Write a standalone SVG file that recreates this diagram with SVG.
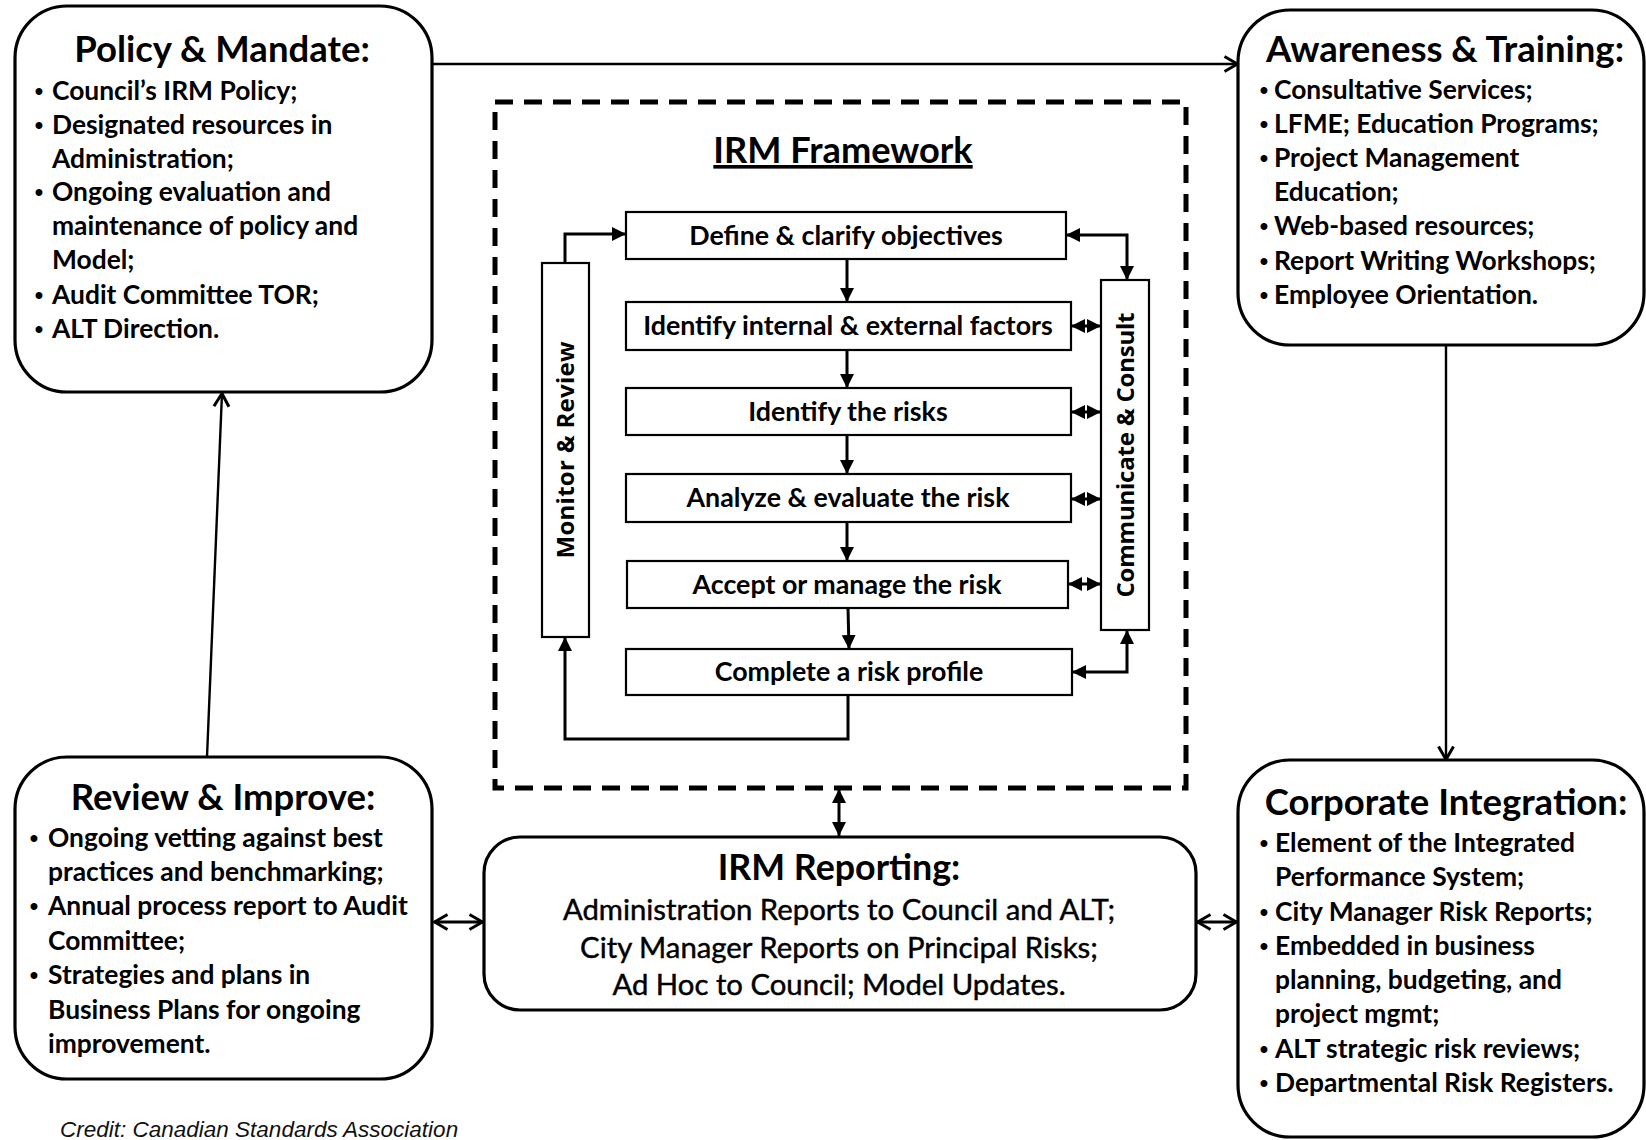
<svg xmlns="http://www.w3.org/2000/svg" width="1646" height="1140" viewBox="0 0 1646 1140">
<style>
.box{fill:#fff;stroke:#000;stroke-width:3.2}
.ibox{fill:#fff;stroke:#000;stroke-width:2.2}
.t{font-family:Lato,"Liberation Sans",sans-serif;font-weight:700;fill:#000}
.title{font-size:36.5px;text-anchor:middle}
.b{font-size:26.4px}
.bul{font-family:"Liberation Sans",Arial,sans-serif;font-size:24px;text-anchor:middle}
.step{font-size:26.8px;text-anchor:middle}
.rep{font-size:29.3px;font-weight:400;text-anchor:middle;stroke:#000;stroke-width:0.45}
.side{font-family:"Open Sans","Liberation Sans",sans-serif;font-weight:700;font-size:24px;text-anchor:middle;fill:#000}
.thick{stroke:#000;stroke-width:3;fill:none}
.thin{stroke:#000;stroke-width:2.4;fill:none}
.credit{font-family:"Liberation Sans",Arial,sans-serif;font-style:italic;font-size:22.5px;fill:#111}
</style>
<defs>
<marker id="tri" viewBox="0 0 14 14" refX="14" refY="7" markerWidth="14" markerHeight="14" markerUnits="userSpaceOnUse" orient="auto-start-reverse"><path d="M0,0 L14,7 L0,14 z" fill="#000"/></marker>
<marker id="chev" viewBox="0 0 16 18" refX="15" refY="9" markerWidth="16" markerHeight="18" markerUnits="userSpaceOnUse" orient="auto-start-reverse"><path d="M1.5,1.5 L14.5,9 L1.5,16.5" fill="none" stroke="#000" stroke-width="3"/></marker>
</defs>
<rect width="1646" height="1140" fill="#fff"/>

<g id="connectors">
<line class="thin" x1="432" y1="64" x2="1238" y2="64" marker-end="url(#chev)"/>
<line class="thin" x1="1446" y1="345" x2="1446" y2="760" marker-end="url(#chev)"/>
<line class="thin" x1="207" y1="757" x2="222" y2="393" marker-end="url(#chev)"/>
<line class="thick" x1="434" y1="922" x2="483" y2="922" marker-start="url(#chev)" marker-end="url(#chev)"/>
<line class="thick" x1="1197" y1="922" x2="1237" y2="922" marker-start="url(#chev)" marker-end="url(#chev)"/>
<line class="thick" x1="839" y1="789" x2="839" y2="836" marker-start="url(#tri)" marker-end="url(#tri)"/>
<line class="thick" x1="847" y1="259" x2="847" y2="302" marker-end="url(#tri)"/>
<line class="thick" x1="847" y1="350" x2="847" y2="388" marker-end="url(#tri)"/>
<line class="thick" x1="847" y1="435" x2="847" y2="474" marker-end="url(#tri)"/>
<line class="thick" x1="847" y1="522" x2="847" y2="561" marker-end="url(#tri)"/>
<line class="thick" x1="848" y1="608" x2="849" y2="649" marker-end="url(#tri)"/>
<path class="thick" d="M848,695 L848,739 L565,739 L565,637" marker-end="url(#tri)"/>
<path class="thick" d="M565,263 L565,234 L626,234" marker-end="url(#tri)"/>
<path class="thick" d="M1066,235 L1127,235 L1127,280" marker-start="url(#tri)" marker-end="url(#tri)"/>
<path class="thick" d="M1072,672 L1127,672 L1127,630" marker-start="url(#tri)" marker-end="url(#tri)"/>
<line class="thick" x1="1071" y1="326" x2="1101" y2="326" marker-start="url(#tri)" marker-end="url(#tri)"/>
<line class="thick" x1="1071" y1="412" x2="1101" y2="412" marker-start="url(#tri)" marker-end="url(#tri)"/>
<line class="thick" x1="1071" y1="499" x2="1101" y2="499" marker-start="url(#tri)" marker-end="url(#tri)"/>
<line class="thick" x1="1068" y1="584" x2="1101" y2="584" marker-start="url(#tri)" marker-end="url(#tri)"/>
</g>

<g id="irm-framework">
<rect x="495" y="102" width="691" height="686" fill="none" stroke="#000" stroke-width="5" stroke-dasharray="18 11"/>
<text class="t title" x="843" y="163" style="font-size:36.2px;text-decoration:underline">IRM Framework</text>
</g>

<g id="policy-mandate">
<rect class="box" x="15" y="6" width="417" height="386" rx="52"/>
<text class="t title" x="222" y="62">Policy &amp; Mandate:</text>
<g class="t b">
<text class="bul" x="39" y="99">•</text><text x="52" y="100">Council’s IRM Policy;</text>
<text class="bul" x="39" y="133">•</text><text x="52" y="134">Designated resources in</text>
<text x="52" y="168">Administration;</text>
<text class="bul" x="39" y="200">•</text><text x="52" y="201">Ongoing evaluation and</text>
<text x="52" y="235">maintenance of policy and</text>
<text x="52" y="269">Model;</text>
<text class="bul" x="39" y="303">•</text><text x="52" y="304">Audit Committee TOR;</text>
<text class="bul" x="39" y="337">•</text><text x="52" y="338">ALT Direction.</text>
</g>
</g>

<g id="awareness-training">
<rect class="box" x="1238" y="10" width="406" height="335" rx="52"/>
<text class="t title" x="1445" y="62">Awareness &amp; Training:</text>
<g class="t b">
<text class="bul" x="1264" y="98">•</text><text x="1274" y="99">Consultative Services;</text>
<text class="bul" x="1264" y="132">•</text><text x="1274" y="133">LFME; Education Programs;</text>
<text class="bul" x="1264" y="166">•</text><text x="1274" y="167">Project Management</text>
<text x="1274" y="201">Education;</text>
<text class="bul" x="1264" y="234">•</text><text x="1274" y="235">Web-based resources;</text>
<text class="bul" x="1264" y="269">•</text><text x="1274" y="270">Report Writing Workshops;</text>
<text class="bul" x="1264" y="303">•</text><text x="1274" y="304">Employee Orientation.</text>
</g>
</g>

<g id="review-improve">
<rect class="box" x="15" y="757" width="417" height="322" rx="52"/>
<text class="t title" x="223" y="810">Review &amp; Improve:</text>
<g class="t b">
<text class="bul" x="34" y="846">•</text><text x="48" y="847">Ongoing vetting against best</text>
<text x="48" y="881">practices and benchmarking;</text>
<text class="bul" x="34" y="914">•</text><text x="48" y="915">Annual process report to Audit</text>
<text x="48" y="950">Committee;</text>
<text class="bul" x="34" y="983">•</text><text x="48" y="984">Strategies and plans in</text>
<text x="48" y="1019">Business Plans for ongoing</text>
<text x="48" y="1053">improvement.</text>
</g>
</g>

<g id="corporate-integration">
<rect class="box" x="1238" y="760" width="406" height="377" rx="52"/>
<text class="t title" x="1446" y="815">Corporate Integration:</text>
<g class="t b">
<text class="bul" x="1264" y="851">•</text><text x="1275" y="852">Element of the Integrated</text>
<text x="1275" y="886">Performance System;</text>
<text class="bul" x="1264" y="920">•</text><text x="1275" y="921">City Manager Risk Reports;</text>
<text class="bul" x="1264" y="954">•</text><text x="1275" y="955">Embedded in business</text>
<text x="1275" y="989">planning, budgeting, and</text>
<text x="1275" y="1023">project mgmt;</text>
<text class="bul" x="1264" y="1057">•</text><text x="1275" y="1058">ALT strategic risk reviews;</text>
<text class="bul" x="1264" y="1091">•</text><text x="1275" y="1092">Departmental Risk Registers.</text>
</g>
</g>

<g id="irm-reporting">
<rect class="box" x="484" y="837" width="712" height="173" rx="36"/>
<text class="t title" x="839" y="880" style="font-size:35.8px">IRM Reporting:</text>
<text class="t rep" x="839" y="920">Administration Reports to Council and ALT;</text>
<text class="t rep" x="839" y="958">City Manager Reports on Principal Risks;</text>
<text class="t rep" x="839" y="995">Ad Hoc to Council; Model Updates.</text>
</g>

<g id="step-define"><rect class="ibox" x="626" y="212" width="440" height="47"/><text class="t step" x="846" y="245">Define &amp; clarify objectives</text></g>
<g id="step-factors"><rect class="ibox" x="626" y="302" width="445" height="48"/><text class="t step" x="848" y="335">Identify internal &amp; external factors</text></g>
<g id="step-risks"><rect class="ibox" x="626" y="388" width="445" height="47"/><text class="t step" x="848" y="421">Identify the risks</text></g>
<g id="step-analyze"><rect class="ibox" x="626" y="474" width="445" height="48"/><text class="t step" x="848" y="507">Analyze &amp; evaluate the risk</text></g>
<g id="step-accept"><rect class="ibox" x="627" y="561" width="441" height="47"/><text class="t step" x="847" y="594">Accept or manage the risk</text></g>
<g id="step-profile"><rect class="ibox" x="626" y="649" width="446" height="46"/><text class="t step" x="849" y="681">Complete a risk profile</text></g>

<g id="monitor-review"><rect class="ibox" x="542" y="263" width="47" height="374"/><text class="side" transform="translate(574,450) rotate(-90)" textLength="217" lengthAdjust="spacing">Monitor &amp; Review</text></g>
<g id="communicate-consult"><rect class="ibox" x="1101" y="280" width="48" height="350"/><text class="side" transform="translate(1134,455) rotate(-90)" textLength="285" lengthAdjust="spacing">Communicate &amp; Consult</text></g>

<text class="credit" x="60" y="1137">Credit: Canadian Standards Association</text>
</svg>
